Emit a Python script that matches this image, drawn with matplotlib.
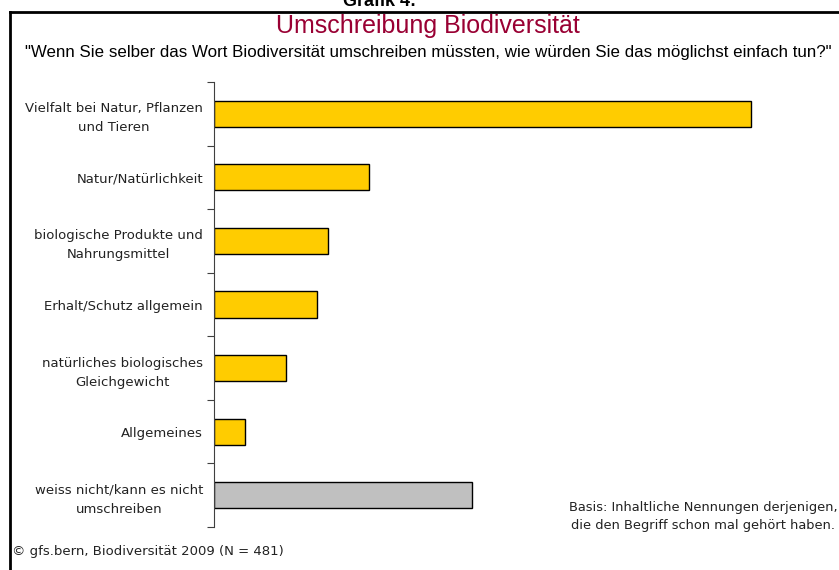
import matplotlib.pyplot as plt
from matplotlib.lines import Line2D
import numpy as np

categories = [
    'Vielfalt bei Natur, Pflanzen\nund Tieren',
    'Natur/Natürlichkeit',
    'biologische Produkte und\nNahrungsmittel',
    'Erhalt/Schutz allgemein',
    'natürliches biologisches\nGleichgewicht',
    'Allgemeines',
    'weiss nicht/kann es nicht\numschreiben',
]
values = [52, 15, 11, 10, 7, 3, 25]
colors = ['#FFCC00'] * 6 + ['#C0C0C0']

narrow = ['Liberation Sans Narrow', 'Liberation Sans', 'DejaVu Sans']
plt.rcParams['font.family'] = ['DejaVu Sans']

fig = plt.figure(figsize=(8.39, 5.70), dpi=100)
ax = fig.add_axes([214 / 839, 1 - 527 / 570, 620 / 839, 445 / 570])

y = np.arange(len(categories))
ax.barh(y, values, height=0.41, color=colors, edgecolor='black', linewidth=1)

ax.set_xlim(0, 60)
ax.set_ylim(len(categories) - 0.5, -0.5)

ax.set_yticks(np.arange(-0.5, len(categories)), labels=[])
ax.set_yticks(y, labels=categories, minor=True)
ax.tick_params(axis='y', which='major', direction='out', length=5, color='#404040')
ax.tick_params(axis='y', which='minor', length=0, pad=8, labelsize=9.5, labelcolor='#222222')
for lbl in ax.get_yticklabels(minor=True):
    lbl.set_multialignment('center')
    lbl.set_linespacing(1.6)

ax.set_xticks([])
for s in ['top', 'right', 'bottom']:
    ax.spines[s].set_visible(False)
ax.spines['left'].set_color('#404040')

# frame around the chart
fig.add_artist(Line2D([10 / 839, 10 / 839], [0, 1 - 12 / 570], transform=fig.transFigure,
                      color='black', linewidth=2))
fig.add_artist(Line2D([10 / 839, 1], [1 - 12 / 570, 1 - 12 / 570], transform=fig.transFigure,
                      color='black', linewidth=2))

fig.text(380 / 839, 1 - 1 / 570, 'Grafik 4:', ha='center', va='center',
         fontsize=13, fontweight='bold', family=['Liberation Sans', 'DejaVu Sans'])
fig.text(428 / 839, 1 - 26 / 570, 'Umschreibung Biodiversität', ha='center', va='center',
         fontsize=18, color='#990033', family=narrow)
fig.text(428 / 839, 1 - 52 / 570,
         '"Wenn Sie selber das Wort Biodiversität umschreiben müssten, wie würden Sie das möglichst einfach tun?"',
         ha='center', va='center', fontsize=12.2, color='black', family=narrow)

fig.text(703 / 839, 1 - 516 / 570, 'Basis: Inhaltliche Nennungen derjenigen,\ndie den Begriff schon mal gehört haben.',
         ha='center', va='center', fontsize=9.4, color='#222222', linespacing=1.5)
fig.text(12 / 839, 1 - 551 / 570, '© gfs.bern, Biodiversität 2009 (N = 481)',
         ha='left', va='center', fontsize=9.5, color='#222222')

plt.savefig('out.png', dpi=100)
